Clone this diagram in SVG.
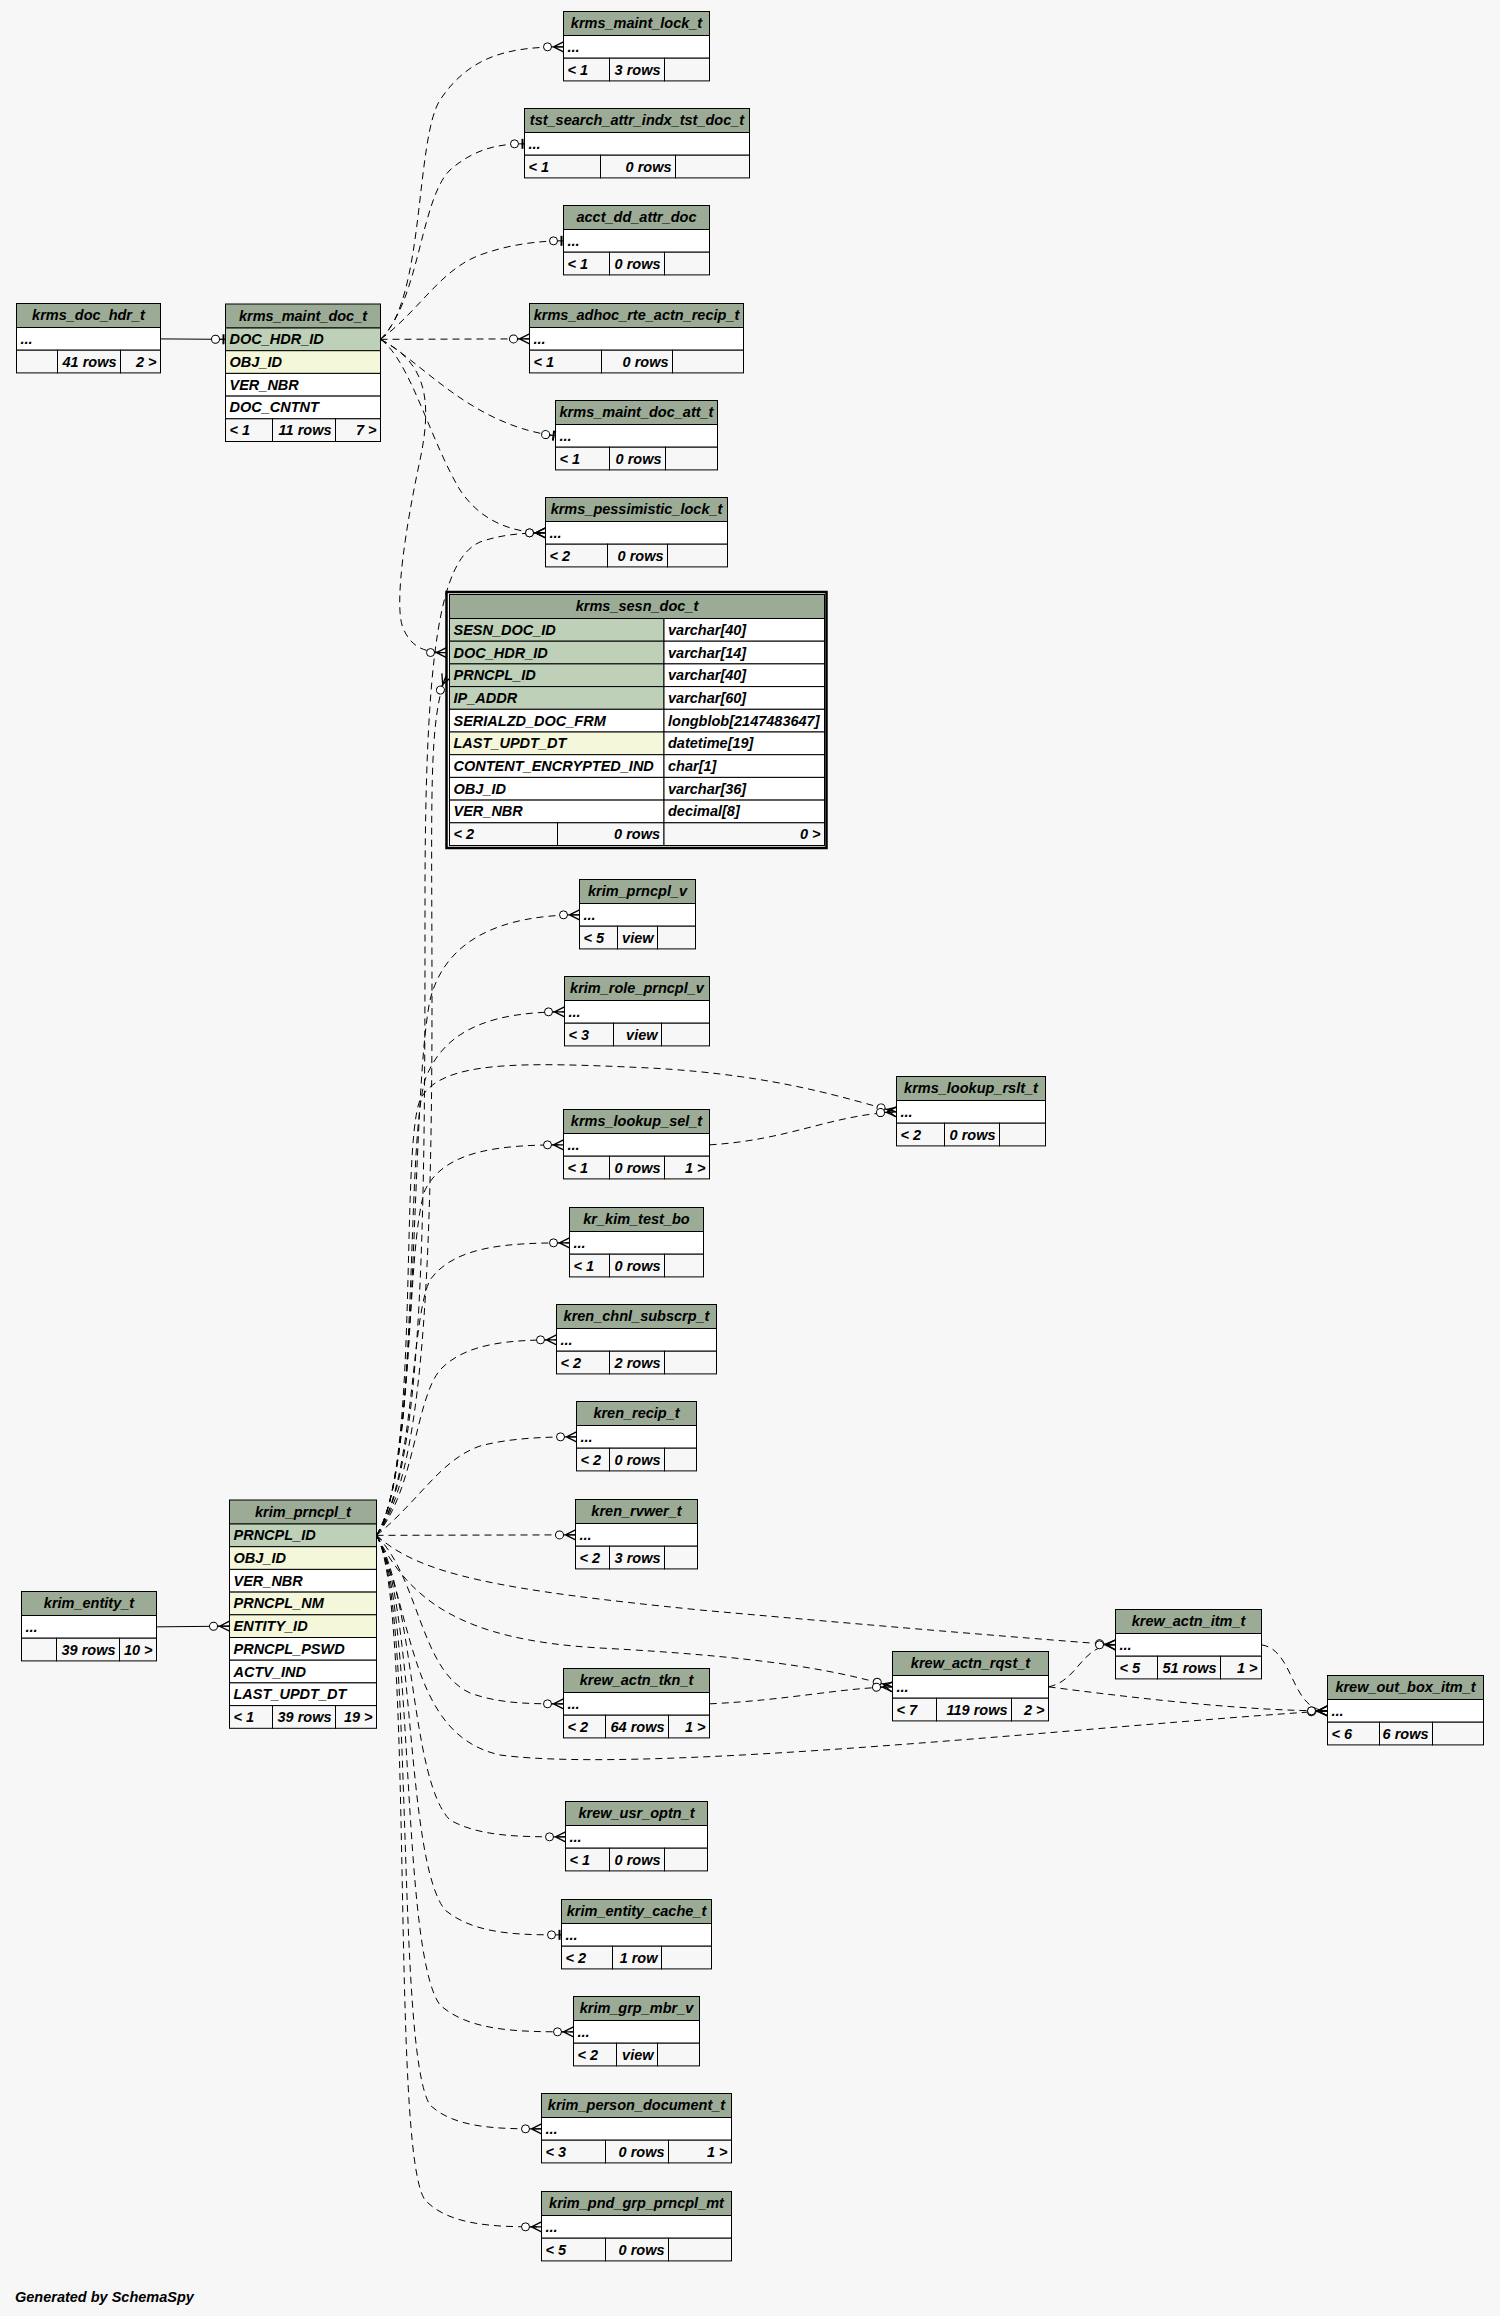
<svg xmlns="http://www.w3.org/2000/svg" width="1500" height="2316" viewBox="0 0 1500 2316">
<style>
text{font-family:"Liberation Sans",Arial,Helvetica,sans-serif;font-size:14.5px;font-style:italic;font-weight:bold;fill:#000}
.h{text-anchor:middle}
.r{text-anchor:end}
.hd{fill:#9bab96;stroke:#000}
.pk{fill:#bed1b8;stroke:#000}
.ix{fill:#f4f7da;stroke:#000}
.bd{fill:#fff;stroke:#000}
.ft{fill:#f7f7f7;stroke:#000}
.dl{fill:none;stroke:#000;stroke-dasharray:7 5}
.sl{fill:none;stroke:#000}
</style>
<defs>
<marker id="crow" markerUnits="userSpaceOnUse" orient="auto" refX="0" refY="0" markerWidth="30" markerHeight="20" viewBox="-24 -10 30 20" overflow="visible">
<circle cx="-16" cy="0" r="4" fill="#fff" stroke="#000" stroke-width="1"/>
<path d="M-12,0 L0,0 M-10,0 L0,-5 M-10,0 L0,5" fill="none" stroke="#000" stroke-width="1.3"/>
</marker>
<marker id="tee" markerUnits="userSpaceOnUse" orient="auto" refX="0" refY="0" markerWidth="30" markerHeight="20" viewBox="-24 -10 30 20" overflow="visible">
<path d="M-6,0 L0,0" fill="none" stroke="#000" stroke-width="1"/>
<circle cx="-10" cy="0" r="4" fill="#fff" stroke="#000" stroke-width="1"/>
<path d="M-2,-5 L-2,5" fill="none" stroke="#000" stroke-width="2"/>
</marker>
</defs>
<rect width="1500" height="2316" fill="#f7f7f7"/>

<g id="connectors">
<path class="sl" marker-end="url(#tee)" d="M160.5,338.9 L225.5,339.35"/>
<path class="sl" marker-end="url(#crow)" d="M156.5,1626.85 L229.5,1626.15"/>
<!-- from krms_maint_doc_t -->
<path class="dl" marker-end="url(#crow)" d="M380.5,339.35 C425,300 415,140 440,100 C470,55 510,46.85 563.5,46.85"/>
<path class="dl" marker-end="url(#tee)" d="M380.5,339.35 C420,300 420,200 450,170 C475,148 500,143.85 524.5,143.85"/>
<path class="dl" marker-end="url(#tee)" d="M380.5,339.35 C420,310 440,270 480,255 C510,244 540,240.85 563.5,240.85"/>
<path class="dl" marker-end="url(#crow)" d="M380.5,339.35 L529.5,338.85"/>
<path class="dl" marker-end="url(#tee)" d="M380.5,339.35 C420,360 470,425 555.5,435.85"/>
<path class="dl" marker-end="url(#crow)" d="M380.5,339.35 C410,360 430,440 460,490 C480,520 510,532.85 545.5,532.85"/>
<path class="dl" marker-end="url(#crow)" d="M380.5,339.35 C420,360 435,390 420,460 C405,530 395,600 402,625 C410,648 425,652.55 446.5,652.55"/>
<!-- from krim_prncpl_t -->
<path class="dl" marker-end="url(#crow)" d="M376.5,1535.35 C420,1480 432,1300 432,1000 C432,800 428,720 446.5,675.25"/>
<path class="dl" marker-end="url(#crow)" d="M376.5,1535.35 C425,1470 425,1200 425,900 C425,650 440,560 480,542 C500,535 520,532.85 545.5,532.85"/>
<path class="dl" marker-end="url(#crow)" d="M376.5,1535.35 C420,1470 410,1100 430,1000 C445,940 500,914.85 579.5,914.85"/>
<path class="dl" marker-end="url(#crow)" d="M376.5,1535.35 C420,1470 405,1150 425,1080 C445,1025 500,1011.85 564.5,1011.85"/>
<path class="dl" marker-end="url(#crow)" d="M376.5,1535.35 C420,1470 400,1150 420,1100 C440,1060 520,1062 650,1068 C780,1075 850,1100 896.5,1111.85"/>
<path class="dl" marker-end="url(#crow)" d="M376.5,1535.35 C415,1470 405,1250 425,1190 C445,1150 500,1144.85 563.5,1144.85"/>
<path class="dl" marker-end="url(#crow)" d="M376.5,1535.35 C415,1480 410,1320 430,1280 C455,1245 510,1242.85 569.5,1242.85"/>
<path class="dl" marker-end="url(#crow)" d="M376.5,1535.35 C415,1490 415,1400 440,1370 C465,1343 510,1339.85 556.5,1339.85"/>
<path class="dl" marker-end="url(#crow)" d="M376.5,1535.35 C420,1500 440,1460 480,1446 C510,1438 545,1436.85 576.5,1436.85"/>
<path class="dl" marker-end="url(#crow)" d="M376.5,1535.35 L575.5,1534.85"/>
<path class="dl" marker-end="url(#crow)" d="M376.5,1535.35 C420,1575 500,1590 700,1610 C900,1628 1050,1640 1115.5,1644.85"/>
<path class="dl" marker-end="url(#crow)" d="M376.5,1535.35 C410,1600 460,1640 600,1648 C750,1656 830,1668 892.5,1686.85"/>
<path class="dl" marker-end="url(#crow)" d="M376.5,1535.35 C420,1580 420,1670 470,1693 C500,1703.85 530,1703.85 563.5,1703.85"/>
<path class="dl" marker-end="url(#crow)" d="M376.5,1535.35 C415,1620 410,1735 500,1755 C650,1775 1100,1725 1327.5,1710.85"/>
<path class="dl" marker-end="url(#crow)" d="M376.5,1535.35 C415,1600 410,1780 450,1820 C480,1836.85 520,1836.85 565.5,1836.85"/>
<path class="dl" marker-end="url(#tee)" d="M376.5,1535.35 C415,1600 405,1860 445,1910 C475,1934.85 520,1934.85 561.5,1934.85"/>
<path class="dl" marker-end="url(#crow)" d="M376.5,1535.35 C415,1600 400,1950 440,2005 C470,2031.85 520,2031.85 573.5,2031.85"/>
<path class="dl" marker-end="url(#crow)" d="M376.5,1535.35 C415,1600 395,2050 430,2105 C455,2128.85 500,2128.85 541.5,2128.85"/>
<path class="dl" marker-end="url(#crow)" d="M376.5,1535.35 C415,1600 390,2150 425,2200 C450,2226.85 500,2226.85 541.5,2226.85"/>
<!-- others -->
<path class="dl" marker-end="url(#crow)" d="M709.5,1144.85 C790,1140 830,1115 896.5,1111.85"/>
<path class="dl" marker-end="url(#crow)" d="M709.5,1703.85 C790,1700 840,1688 892.5,1686.85"/>
<path class="dl" marker-end="url(#crow)" d="M1048.5,1686.85 C1080,1680 1080,1644.85 1115.5,1644.85"/>
<path class="dl" marker-end="url(#crow)" d="M1048.5,1686.85 C1150,1700 1250,1710.85 1327.5,1710.85"/>
<path class="dl" marker-end="url(#crow)" d="M1261.5,1644.85 C1295,1650 1290,1710.85 1327.5,1710.85"/>
</g>

<g id="krms_doc_hdr_t" transform="translate(16.5,303.5)">
<rect class="hd" width="144" height="24"/><text class="h" x="72" y="16.5">krms_doc_hdr_t</text>
<rect class="bd" y="24" width="144" height="22.7"/><text x="4" y="40.3">...</text>
<rect class="ft" y="46.7" width="41" height="22.7"/><rect class="ft" x="41" y="46.7" width="63" height="22.7"/><rect class="ft" x="104" y="46.7" width="40" height="22.7"/>
<text class="r" x="100" y="63">41 rows</text><text class="r" x="140" y="63">2 &gt;</text>
</g>

<g id="krms_maint_doc_t" transform="translate(225.5,304)">
<rect class="hd" width="155" height="24"/><text class="h" x="77.5" y="16.5">krms_maint_doc_t</text>
<rect class="pk" y="24" width="155" height="22.7"/><text x="4" y="40.3">DOC_HDR_ID</text>
<rect class="ix" y="46.7" width="155" height="22.7"/><text x="4" y="63">OBJ_ID</text>
<rect class="bd" y="69.4" width="155" height="22.7"/><text x="4" y="85.7">VER_NBR</text>
<rect class="bd" y="92.1" width="155" height="22.7"/><text x="4" y="108.4">DOC_CNTNT</text>
<rect class="ft" y="114.8" width="47" height="22.7"/><rect class="ft" x="47" y="114.8" width="63" height="22.7"/><rect class="ft" x="110" y="114.8" width="45" height="22.7"/>
<text x="4" y="131.1">&lt; 1</text><text class="r" x="106" y="131.1">11 rows</text><text class="r" x="151" y="131.1">7 &gt;</text>
</g>

<g id="krms_maint_lock_t" transform="translate(563.5,11.5)">
<rect class="hd" width="146" height="24"/><text class="h" x="73" y="16.5">krms_maint_lock_t</text>
<rect class="bd" y="24" width="146" height="22.7"/><text x="4" y="40.3">...</text>
<rect class="ft" y="46.7" width="46" height="22.7"/><rect class="ft" x="46" y="46.7" width="55" height="22.7"/><rect class="ft" x="101" y="46.7" width="45" height="22.7"/>
<text x="4" y="63">&lt; 1</text><text class="r" x="97" y="63">3 rows</text>
</g>

<g id="tst_search_attr_indx_tst_doc_t" transform="translate(524.5,108.5)">
<rect class="hd" width="225" height="24"/><text class="h" x="112.5" y="16.5">tst_search_attr_indx_tst_doc_t</text>
<rect class="bd" y="24" width="225" height="22.7"/><text x="4" y="40.3">...</text>
<rect class="ft" y="46.7" width="76" height="22.7"/><rect class="ft" x="76" y="46.7" width="75" height="22.7"/><rect class="ft" x="151" y="46.7" width="74" height="22.7"/>
<text x="4" y="63">&lt; 1</text><text class="r" x="147" y="63">0 rows</text>
</g>

<g id="acct_dd_attr_doc" transform="translate(563.5,205.5)">
<rect class="hd" width="146" height="24"/><text class="h" x="73" y="16.5">acct_dd_attr_doc</text>
<rect class="bd" y="24" width="146" height="22.7"/><text x="4" y="40.3">...</text>
<rect class="ft" y="46.7" width="46" height="22.7"/><rect class="ft" x="46" y="46.7" width="55" height="22.7"/><rect class="ft" x="101" y="46.7" width="45" height="22.7"/>
<text x="4" y="63">&lt; 1</text><text class="r" x="97" y="63">0 rows</text>
</g>

<g id="krms_adhoc_rte_actn_recip_t" transform="translate(529.5,303.5)">
<rect class="hd" width="214" height="24"/><text class="h" x="107" y="16.5">krms_adhoc_rte_actn_recip_t</text>
<rect class="bd" y="24" width="214" height="22.7"/><text x="4" y="40.3">...</text>
<rect class="ft" y="46.7" width="72" height="22.7"/><rect class="ft" x="72" y="46.7" width="71" height="22.7"/><rect class="ft" x="143" y="46.7" width="71" height="22.7"/>
<text x="4" y="63">&lt; 1</text><text class="r" x="139" y="63">0 rows</text>
</g>

<g id="krms_maint_doc_att_t" transform="translate(555.5,400.5)">
<rect class="hd" width="162" height="24"/><text class="h" x="81" y="16.5">krms_maint_doc_att_t</text>
<rect class="bd" y="24" width="162" height="22.7"/><text x="4" y="40.3">...</text>
<rect class="ft" y="46.7" width="54" height="22.7"/><rect class="ft" x="54" y="46.7" width="56" height="22.7"/><rect class="ft" x="110" y="46.7" width="52" height="22.7"/>
<text x="4" y="63">&lt; 1</text><text class="r" x="106" y="63">0 rows</text>
</g>

<g id="krms_pessimistic_lock_t" transform="translate(545.5,497.5)">
<rect class="hd" width="182" height="24"/><text class="h" x="91" y="16.5">krms_pessimistic_lock_t</text>
<rect class="bd" y="24" width="182" height="22.7"/><text x="4" y="40.3">...</text>
<rect class="ft" y="46.7" width="62" height="22.7"/><rect class="ft" x="62" y="46.7" width="60" height="22.7"/><rect class="ft" x="122" y="46.7" width="60" height="22.7"/>
<text x="4" y="63">&lt; 2</text><text class="r" x="118" y="63">0 rows</text>
</g>

<g id="krms_sesn_doc_t">
<rect x="446.5" y="592" width="380" height="256" fill="none" stroke="#000" stroke-width="2.5"/>
<g transform="translate(449.5,594.5)">
<rect class="hd" width="375" height="24"/><text class="h" x="187.5" y="16.5">krms_sesn_doc_t</text>
<rect class="pk" y="24" width="214.5" height="22.7"/><rect class="bd" x="214.5" y="24" width="160.5" height="22.7"/>
<text x="4" y="40.3">SESN_DOC_ID</text><text x="218.5" y="40.3">varchar[40]</text>
<rect class="pk" y="46.7" width="214.5" height="22.7"/><rect class="bd" x="214.5" y="46.7" width="160.5" height="22.7"/>
<text x="4" y="63">DOC_HDR_ID</text><text x="218.5" y="63">varchar[14]</text>
<rect class="pk" y="69.4" width="214.5" height="22.7"/><rect class="bd" x="214.5" y="69.4" width="160.5" height="22.7"/>
<text x="4" y="85.7">PRNCPL_ID</text><text x="218.5" y="85.7">varchar[40]</text>
<rect class="pk" y="92.1" width="214.5" height="22.7"/><rect class="bd" x="214.5" y="92.1" width="160.5" height="22.7"/>
<text x="4" y="108.4">IP_ADDR</text><text x="218.5" y="108.4">varchar[60]</text>
<rect class="bd" y="114.8" width="214.5" height="22.7"/><rect class="bd" x="214.5" y="114.8" width="160.5" height="22.7"/>
<text x="4" y="131.1">SERIALZD_DOC_FRM</text><text x="218.5" y="131.1">longblob[2147483647]</text>
<rect class="ix" y="137.5" width="214.5" height="22.7"/><rect class="bd" x="214.5" y="137.5" width="160.5" height="22.7"/>
<text x="4" y="153.8">LAST_UPDT_DT</text><text x="218.5" y="153.8">datetime[19]</text>
<rect class="bd" y="160.2" width="214.5" height="22.7"/><rect class="bd" x="214.5" y="160.2" width="160.5" height="22.7"/>
<text x="4" y="176.5">CONTENT_ENCRYPTED_IND</text><text x="218.5" y="176.5">char[1]</text>
<rect class="bd" y="182.9" width="214.5" height="22.7"/><rect class="bd" x="214.5" y="182.9" width="160.5" height="22.7"/>
<text x="4" y="199.2">OBJ_ID</text><text x="218.5" y="199.2">varchar[36]</text>
<rect class="bd" y="205.6" width="214.5" height="22.7"/><rect class="bd" x="214.5" y="205.6" width="160.5" height="22.7"/>
<text x="4" y="221.9">VER_NBR</text><text x="218.5" y="221.9">decimal[8]</text>
<rect class="ft" y="228.3" width="108" height="22.7"/><rect class="ft" x="108" y="228.3" width="106.5" height="22.7"/><rect class="ft" x="214.5" y="228.3" width="160.5" height="22.7"/>
<text x="4" y="244.6">&lt; 2</text><text class="r" x="210.5" y="244.6">0 rows</text><text class="r" x="371" y="244.6">0 &gt;</text>
</g>
</g>

<g id="krim_prncpl_v" transform="translate(579.5,879.5)">
<rect class="hd" width="116" height="24"/><text class="h" x="58" y="16.5">krim_prncpl_v</text>
<rect class="bd" y="24" width="116" height="22.7"/><text x="4" y="40.3">...</text>
<rect class="ft" y="46.7" width="38" height="22.7"/><rect class="ft" x="38" y="46.7" width="40" height="22.7"/><rect class="ft" x="78" y="46.7" width="38" height="22.7"/>
<text x="4" y="63">&lt; 5</text><text class="r" x="74" y="63">view</text>
</g>

<g id="krim_role_prncpl_v" transform="translate(564.5,976.5)">
<rect class="hd" width="145" height="24"/><text class="h" x="72.5" y="16.5">krim_role_prncpl_v</text>
<rect class="bd" y="24" width="145" height="22.7"/><text x="4" y="40.3">...</text>
<rect class="ft" y="46.7" width="49" height="22.7"/><rect class="ft" x="49" y="46.7" width="48" height="22.7"/><rect class="ft" x="97" y="46.7" width="48" height="22.7"/>
<text x="4" y="63">&lt; 3</text><text class="r" x="93" y="63">view</text>
</g>

<g id="krms_lookup_rslt_t" transform="translate(896.5,1076.5)">
<rect class="hd" width="149" height="24"/><text class="h" x="74.5" y="16.5">krms_lookup_rslt_t</text>
<rect class="bd" y="24" width="149" height="22.7"/><text x="4" y="40.3">...</text>
<rect class="ft" y="46.7" width="48" height="22.7"/><rect class="ft" x="48" y="46.7" width="55" height="22.7"/><rect class="ft" x="103" y="46.7" width="46" height="22.7"/>
<text x="4" y="63">&lt; 2</text><text class="r" x="99" y="63">0 rows</text>
</g>

<g id="krms_lookup_sel_t" transform="translate(563.5,1109.5)">
<rect class="hd" width="146" height="24"/><text class="h" x="73" y="16.5">krms_lookup_sel_t</text>
<rect class="bd" y="24" width="146" height="22.7"/><text x="4" y="40.3">...</text>
<rect class="ft" y="46.7" width="46" height="22.7"/><rect class="ft" x="46" y="46.7" width="55" height="22.7"/><rect class="ft" x="101" y="46.7" width="45" height="22.7"/>
<text x="4" y="63">&lt; 1</text><text class="r" x="97" y="63">0 rows</text><text class="r" x="142" y="63">1 &gt;</text>
</g>

<g id="kr_kim_test_bo" transform="translate(569.5,1207.5)">
<rect class="hd" width="134" height="24"/><text class="h" x="67" y="16.5">kr_kim_test_bo</text>
<rect class="bd" y="24" width="134" height="22.7"/><text x="4" y="40.3">...</text>
<rect class="ft" y="46.7" width="40" height="22.7"/><rect class="ft" x="40" y="46.7" width="55" height="22.7"/><rect class="ft" x="95" y="46.7" width="39" height="22.7"/>
<text x="4" y="63">&lt; 1</text><text class="r" x="91" y="63">0 rows</text>
</g>

<g id="kren_chnl_subscrp_t" transform="translate(556.5,1304.5)">
<rect class="hd" width="160" height="24"/><text class="h" x="80" y="16.5">kren_chnl_subscrp_t</text>
<rect class="bd" y="24" width="160" height="22.7"/><text x="4" y="40.3">...</text>
<rect class="ft" y="46.7" width="53" height="22.7"/><rect class="ft" x="53" y="46.7" width="55" height="22.7"/><rect class="ft" x="108" y="46.7" width="52" height="22.7"/>
<text x="4" y="63">&lt; 2</text><text class="r" x="104" y="63">2 rows</text>
</g>

<g id="kren_recip_t" transform="translate(576.5,1401.5)">
<rect class="hd" width="120" height="24"/><text class="h" x="60" y="16.5">kren_recip_t</text>
<rect class="bd" y="24" width="120" height="22.7"/><text x="4" y="40.3">...</text>
<rect class="ft" y="46.7" width="33" height="22.7"/><rect class="ft" x="33" y="46.7" width="55" height="22.7"/><rect class="ft" x="88" y="46.7" width="32" height="22.7"/>
<text x="4" y="63">&lt; 2</text><text class="r" x="84" y="63">0 rows</text>
</g>

<g id="kren_rvwer_t" transform="translate(575.5,1499.5)">
<rect class="hd" width="122" height="24"/><text class="h" x="61" y="16.5">kren_rvwer_t</text>
<rect class="bd" y="24" width="122" height="22.7"/><text x="4" y="40.3">...</text>
<rect class="ft" y="46.7" width="34" height="22.7"/><rect class="ft" x="34" y="46.7" width="55" height="22.7"/><rect class="ft" x="89" y="46.7" width="33" height="22.7"/>
<text x="4" y="63">&lt; 2</text><text class="r" x="85" y="63">3 rows</text>
</g>

<g id="krim_prncpl_t" transform="translate(229.5,1500)">
<rect class="hd" width="147" height="24"/><text class="h" x="73.5" y="16.5">krim_prncpl_t</text>
<rect class="pk" y="24" width="147" height="22.7"/><text x="4" y="40.3">PRNCPL_ID</text>
<rect class="ix" y="46.7" width="147" height="22.7"/><text x="4" y="63">OBJ_ID</text>
<rect class="bd" y="69.4" width="147" height="22.7"/><text x="4" y="85.7">VER_NBR</text>
<rect class="ix" y="92.1" width="147" height="22.7"/><text x="4" y="108.4">PRNCPL_NM</text>
<rect class="ix" y="114.8" width="147" height="22.7"/><text x="4" y="131.1">ENTITY_ID</text>
<rect class="bd" y="137.5" width="147" height="22.7"/><text x="4" y="153.8">PRNCPL_PSWD</text>
<rect class="bd" y="160.2" width="147" height="22.7"/><text x="4" y="176.5">ACTV_IND</text>
<rect class="bd" y="182.9" width="147" height="22.7"/><text x="4" y="199.2">LAST_UPDT_DT</text>
<rect class="ft" y="205.6" width="43" height="22.7"/><rect class="ft" x="43" y="205.6" width="63" height="22.7"/><rect class="ft" x="106" y="205.6" width="41" height="22.7"/>
<text x="4" y="221.9">&lt; 1</text><text class="r" x="102" y="221.9">39 rows</text><text class="r" x="143" y="221.9">19 &gt;</text>
</g>

<g id="krim_entity_t" transform="translate(21.5,1591.5)">
<rect class="hd" width="135" height="24"/><text class="h" x="67.5" y="16.5">krim_entity_t</text>
<rect class="bd" y="24" width="135" height="22.7"/><text x="4" y="40.3">...</text>
<rect class="ft" y="46.7" width="35" height="22.7"/><rect class="ft" x="35" y="46.7" width="63" height="22.7"/><rect class="ft" x="98" y="46.7" width="37" height="22.7"/>
<text class="r" x="94" y="63">39 rows</text><text class="r" x="131" y="63">10 &gt;</text>
</g>

<g id="krew_actn_itm_t" transform="translate(1115.5,1609.5)">
<rect class="hd" width="146" height="24"/><text class="h" x="73" y="16.5">krew_actn_itm_t</text>
<rect class="bd" y="24" width="146" height="22.7"/><text x="4" y="40.3">...</text>
<rect class="ft" y="46.7" width="42" height="22.7"/><rect class="ft" x="42" y="46.7" width="63" height="22.7"/><rect class="ft" x="105" y="46.7" width="41" height="22.7"/>
<text x="4" y="63">&lt; 5</text><text class="r" x="101" y="63">51 rows</text><text class="r" x="142" y="63">1 &gt;</text>
</g>

<g id="krew_actn_rqst_t" transform="translate(892.5,1651.5)">
<rect class="hd" width="156" height="24"/><text class="h" x="78" y="16.5">krew_actn_rqst_t</text>
<rect class="bd" y="24" width="156" height="22.7"/><text x="4" y="40.3">...</text>
<rect class="ft" y="46.7" width="44" height="22.7"/><rect class="ft" x="44" y="46.7" width="75" height="22.7"/><rect class="ft" x="119" y="46.7" width="37" height="22.7"/>
<text x="4" y="63">&lt; 7</text><text class="r" x="115" y="63">119 rows</text><text class="r" x="152" y="63">2 &gt;</text>
</g>

<g id="krew_out_box_itm_t" transform="translate(1327.5,1675.5)">
<rect class="hd" width="156" height="24"/><text class="h" x="78" y="16.5">krew_out_box_itm_t</text>
<rect class="bd" y="24" width="156" height="22.7"/><text x="4" y="40.3">...</text>
<rect class="ft" y="46.7" width="52" height="22.7"/><rect class="ft" x="52" y="46.7" width="53" height="22.7"/><rect class="ft" x="105" y="46.7" width="51" height="22.7"/>
<text x="4" y="63">&lt; 6</text><text class="r" x="101" y="63">6 rows</text>
</g>

<g id="krew_actn_tkn_t" transform="translate(563.5,1668.5)">
<rect class="hd" width="146" height="24"/><text class="h" x="73" y="16.5">krew_actn_tkn_t</text>
<rect class="bd" y="24" width="146" height="22.7"/><text x="4" y="40.3">...</text>
<rect class="ft" y="46.7" width="42" height="22.7"/><rect class="ft" x="42" y="46.7" width="63" height="22.7"/><rect class="ft" x="105" y="46.7" width="41" height="22.7"/>
<text x="4" y="63">&lt; 2</text><text class="r" x="101" y="63">64 rows</text><text class="r" x="142" y="63">1 &gt;</text>
</g>

<g id="krew_usr_optn_t" transform="translate(565.5,1801.5)">
<rect class="hd" width="142" height="24"/><text class="h" x="71" y="16.5">krew_usr_optn_t</text>
<rect class="bd" y="24" width="142" height="22.7"/><text x="4" y="40.3">...</text>
<rect class="ft" y="46.7" width="44" height="22.7"/><rect class="ft" x="44" y="46.7" width="55" height="22.7"/><rect class="ft" x="99" y="46.7" width="43" height="22.7"/>
<text x="4" y="63">&lt; 1</text><text class="r" x="95" y="63">0 rows</text>
</g>

<g id="krim_entity_cache_t" transform="translate(561.5,1899.5)">
<rect class="hd" width="150" height="24"/><text class="h" x="75" y="16.5">krim_entity_cache_t</text>
<rect class="bd" y="24" width="150" height="22.7"/><text x="4" y="40.3">...</text>
<rect class="ft" y="46.7" width="51" height="22.7"/><rect class="ft" x="51" y="46.7" width="49" height="22.7"/><rect class="ft" x="100" y="46.7" width="50" height="22.7"/>
<text x="4" y="63">&lt; 2</text><text class="r" x="96" y="63">1 row</text>
</g>

<g id="krim_grp_mbr_v" transform="translate(573.5,1996.5)">
<rect class="hd" width="126" height="24"/><text class="h" x="63" y="16.5">krim_grp_mbr_v</text>
<rect class="bd" y="24" width="126" height="22.7"/><text x="4" y="40.3">...</text>
<rect class="ft" y="46.7" width="43" height="22.7"/><rect class="ft" x="43" y="46.7" width="41" height="22.7"/><rect class="ft" x="84" y="46.7" width="42" height="22.7"/>
<text x="4" y="63">&lt; 2</text><text class="r" x="80" y="63">view</text>
</g>

<g id="krim_person_document_t" transform="translate(541.5,2093.5)">
<rect class="hd" width="190" height="24"/><text class="h" x="95" y="16.5">krim_person_document_t</text>
<rect class="bd" y="24" width="190" height="22.7"/><text x="4" y="40.3">...</text>
<rect class="ft" y="46.7" width="64" height="22.7"/><rect class="ft" x="64" y="46.7" width="63" height="22.7"/><rect class="ft" x="127" y="46.7" width="63" height="22.7"/>
<text x="4" y="63">&lt; 3</text><text class="r" x="123" y="63">0 rows</text><text class="r" x="186" y="63">1 &gt;</text>
</g>

<g id="krim_pnd_grp_prncpl_mt" transform="translate(541.5,2191.5)">
<rect class="hd" width="190" height="24"/><text class="h" x="95" y="16.5">krim_pnd_grp_prncpl_mt</text>
<rect class="bd" y="24" width="190" height="22.7"/><text x="4" y="40.3">...</text>
<rect class="ft" y="46.7" width="64" height="22.7"/><rect class="ft" x="64" y="46.7" width="63" height="22.7"/><rect class="ft" x="127" y="46.7" width="63" height="22.7"/>
<text x="4" y="63">&lt; 5</text><text class="r" x="123" y="63">0 rows</text>
</g>

<text x="15" y="2302">Generated by SchemaSpy</text>
</svg>
